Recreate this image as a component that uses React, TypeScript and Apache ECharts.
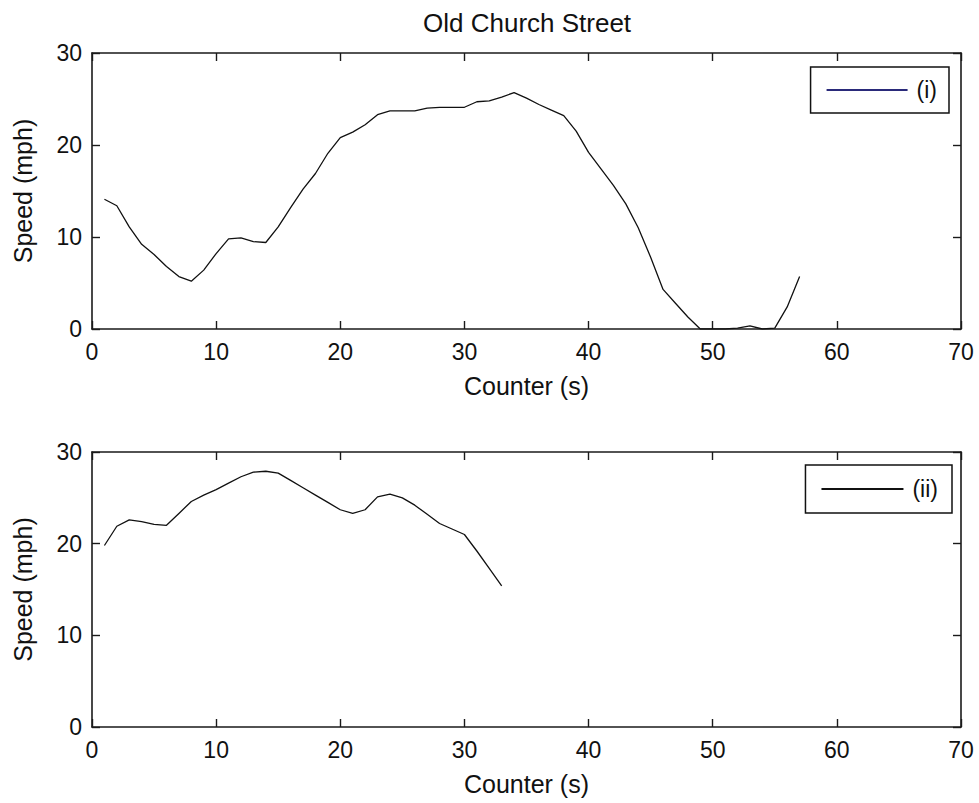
import React, { useEffect, useRef } from "react";
import * as echarts from "echarts";

const titleText = "Old Church Street";
const xAxisName = "Counter (s)";
const yAxisName = "Speed (mph)";
const xTicks = [0, 10, 20, 30, 40, 50, 60, 70];
const yTicks = [0, 10, 20, 30];

const seriesNames = ["(i)", "(ii)"];

const timeI = [
  1, 2, 3, 4, 5, 6, 7, 8, 9, 10, 11, 12, 13, 14, 15, 16, 17, 18, 19, 20,
  21, 22, 23, 24, 25, 26, 27, 28, 29, 30, 31, 32, 33, 34, 35, 36, 37, 38, 39, 40,
  41, 42, 43, 44, 45, 46, 47, 48, 49, 50, 51, 52, 53, 54, 55, 56, 57,
];
const speedI = [
  14.1, 13.4, 11.1, 9.2, 8.1, 6.8, 5.7, 5.2, 6.4, 8.2,
  9.8, 9.9, 9.5, 9.4, 11.1, 13.2, 15.2, 16.9, 19.1, 20.8,
  21.4, 22.2, 23.3, 23.7, 23.7, 23.7, 24.0, 24.1, 24.1, 24.1,
  24.7, 24.8, 25.2, 25.7, 25.1, 24.4, 23.8, 23.2, 21.5, 19.2,
  17.4, 15.6, 13.6, 11.0, 7.8, 4.3, 2.8, 1.3, 0, 0,
  0, 0.1, 0.35, 0, 0.1, 2.4, 5.7,
];

const timeII = [
  1, 2, 3, 4, 5, 6, 7, 8, 9, 10, 11, 12, 13, 14, 15, 16, 17, 18, 19, 20,
  21, 22, 23, 24, 25, 26, 27, 28, 29, 30, 31, 32, 33,
];
const speedII = [
  19.8, 21.9, 22.6, 22.4, 22.1, 22.0, 23.3, 24.6, 25.3, 25.9,
  26.6, 27.3, 27.8, 27.9, 27.7, 26.9, 26.1, 25.3, 24.5, 23.7,
  23.3, 23.7, 25.1, 25.4, 25.0, 24.2, 23.2, 22.2, 21.6, 21.0,
  19.2, 17.3, 15.4,
];

const FONT = "'Liberation Sans', Arial, sans-serif";

export default function App() {
  const ref = useRef<HTMLDivElement>(null);

  useEffect(() => {
    if (!ref.current) return;
    const chart = echarts.init(ref.current, undefined, { renderer: "svg" });
    const axisColor = "#1a1a1a";
    const xMin = xTicks[0];
    const xMax = xTicks[xTicks.length - 1];
    const yMin = yTicks[0];
    const yMax = yTicks[yTicks.length - 1];

    const makeX = (gridIndex: number, pos: "bottom" | "top") => ({
      type: "value",
      gridIndex,
      position: pos,
      min: xMin,
      max: xMax,
      interval: 10,
      name: pos === "bottom" ? xAxisName : "",
      nameLocation: "middle",
      nameGap: 44,
      nameTextStyle: { fontFamily: FONT, fontSize: 25, color: "#111" },
      axisLine: { show: true, onZero: false, lineStyle: { color: axisColor, width: 1.6 } },
      axisTick: { show: true, inside: true, length: 8, lineStyle: { color: axisColor, width: 1.4 } },
      axisLabel: {
        show: pos === "bottom",
        margin: 11,
        fontFamily: FONT,
        fontSize: 23,
        color: "#111",
      },
      splitLine: { show: false },
    });
    const makeY = (gridIndex: number, pos: "left" | "right") => ({
      type: "value",
      gridIndex,
      position: pos,
      min: yMin,
      max: yMax,
      interval: 10,
      name: pos === "left" ? yAxisName : "",
      nameLocation: "middle",
      nameGap: 57,
      nameTextStyle: { fontFamily: FONT, fontSize: 25, color: "#111" },
      axisLine: { show: true, onZero: false, lineStyle: { color: axisColor, width: 1.6 } },
      axisTick: { show: true, inside: true, length: 8, lineStyle: { color: axisColor, width: 1.4 } },
      axisLabel: {
        show: pos === "left",
        margin: 10,
        fontFamily: FONT,
        fontSize: 23,
        color: "#111",
      },
      splitLine: { show: false },
    });

    const legendBase = {
      orient: "horizontal",
      backgroundColor: "#fff",
      borderColor: "#111",
      borderWidth: 1.5,
      borderRadius: 0,
      icon: "rect",
      itemHeight: 2,
      itemGap: 10,
      textStyle: { fontFamily: FONT, fontSize: 23, color: "#111", lineHeight: 26, padding: [0, 0, 0, 4] },
    };

    chart.setOption({
      animation: false,
      backgroundColor: "#fff",
      title: {
        text: titleText,
        left: 418,
        top: 5,
        textStyle: { fontFamily: FONT, fontSize: 26, fontWeight: "normal", color: "#111" },
      },
      grid: [
        { left: 92, right: 18, top: 53, height: 276 },
        { left: 92, right: 18, top: 452, height: 275 },
      ],
      xAxis: [makeX(0, "bottom"), makeX(0, "top"), makeX(1, "bottom"), makeX(1, "top")],
      yAxis: [makeY(0, "left"), makeY(0, "right"), makeY(1, "left"), makeY(1, "right")],
      legend: [
        {
          ...legendBase,
          right: 30,
          top: 67,
          itemWidth: 81,
          padding: [10, 12, 10, 16],
          data: [
            {
              name: seriesNames[0],
              itemStyle: { color: "#2a2a7a" },
            },
          ],
        },
        {
          ...legendBase,
          right: 27,
          top: 465,
          itemWidth: 82,
          padding: [11, 14, 11, 16],
          data: [
            {
              name: seriesNames[1],
              itemStyle: { color: "#111" },
            },
          ],
        },
      ],
      series: [
        {
          name: seriesNames[0],
          type: "line",
          xAxisIndex: 0,
          yAxisIndex: 0,
          symbol: "none",
          clip: true,
          lineStyle: { color: "#111", width: 1.3 },
          itemStyle: { color: "#111" },
          data: timeI.map((t, i) => [t, speedI[i]]),
        },
        {
          name: seriesNames[1],
          type: "line",
          xAxisIndex: 2,
          yAxisIndex: 2,
          symbol: "none",
          clip: true,
          lineStyle: { color: "#111", width: 1.3 },
          itemStyle: { color: "#111" },
          data: timeII.map((t, i) => [t, speedII[i]]),
        },
      ],
    });
    return () => chart.dispose();
  }, []);

  return (
    <div
      ref={ref}
      style={{ position: "fixed", left: 0, top: 0, width: 979, height: 803, background: "#fff" }}
    />
  );
}
